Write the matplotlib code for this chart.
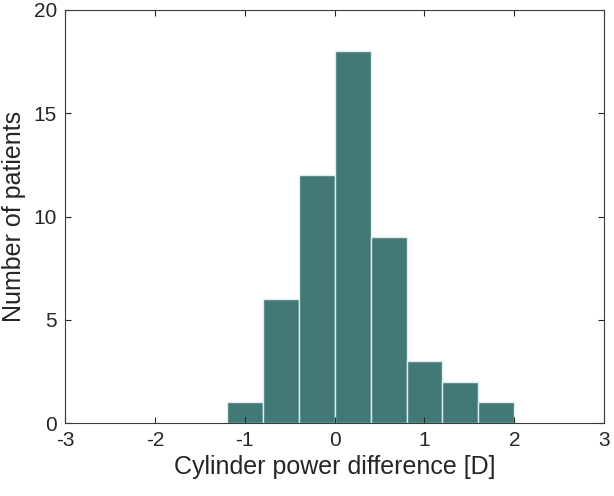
import numpy as np
import matplotlib.pyplot as plt

plt.rcParams['font.family'] = ['Liberation Sans', 'DejaVu Sans']
plt.rcParams['axes.unicode_minus'] = False

bin_edges = [-1.2, -0.8, -0.4, 0.0, 0.4, 0.8, 1.2, 1.6, 2.0]
counts = [1, 6, 12, 18, 9, 3, 2, 1]

fig = plt.figure(figsize=(6.14, 4.96), dpi=100)
ax = fig.add_axes([0.106, 0.147, 0.878, 0.833])

ax.bar(bin_edges[:-1], counts, width=np.diff(bin_edges), align="edge",
       color="#427876", edgecolor="#dceeed", linewidth=1.0)

ax.set_xlim(-3, 3)
ax.set_ylim(0, 20)
ax.set_xticks([-3, -2, -1, 0, 1, 2, 3])
ax.set_yticks([0, 5, 10, 15, 20])

for s in ax.spines.values():
    s.set_color("#3a3a3a")
    s.set_linewidth(0.8)
    s.set_zorder(5)
ax.tick_params(direction="in", length=4, width=0.8, color="#262626",
               labelcolor="#262626", labelsize=15, top=True, right=True, pad=6)

ax.set_xlabel("Cylinder power difference [D]", fontsize=18, color="#262626",
              labelpad=3)
ax.set_ylabel("Number of patients", fontsize=18, color="#262626",
              labelpad=5)

fig.savefig("out.png", dpi=100)
